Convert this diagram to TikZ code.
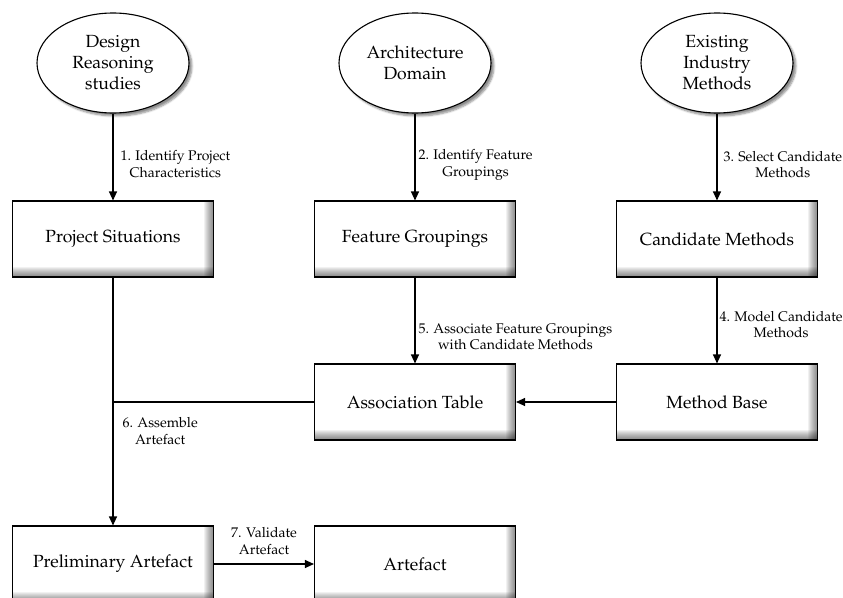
\documentclass[tikz,border=0pt]{standalone}
\IfFileExists{mathpazo.sty}{%
  \usepackage[T1]{fontenc}
  \usepackage{mathpazo}
  \newcommand\bigsz{\fontsize{17.6}{21}\selectfont}
  \newcommand\smallsz{\fontsize{14}{16.5}\selectfont}
}{%
  \usepackage{fontspec}
  \setmainfont{Liberation Serif}
  \newcommand\bigsz{\fontsize{19}{21}\selectfont}
  \newcommand\smallsz{\fontsize{15}{16.5}\selectfont}
}
\usetikzlibrary{shapes.geometric,arrows.meta,shadows.blur}
\begin{document}
\begin{tikzpicture}[x=1pt,y=-1pt,
  every node/.style={inner sep=0pt},
  bigtext/.style={font=\bigsz},
  source/.style={ellipse, draw, line width=1.1pt, fill=white,
    minimum width=152pt, minimum height=100pt, align=center, bigtext,
    blur shadow={shadow xshift=3pt, shadow yshift=-3pt,
      shadow blur steps=6, shadow opacity=45}},
  % inner bevel shading along the right and bottom edges
  stage/.style={rectangle, draw, line width=1.1pt, fill=white,
    minimum width=201pt, minimum height=76pt, bigtext,
    path picture={
      \foreach \i in {1,...,10}{
        \fill[black, opacity=0.055]
          ([xshift=-\i pt]path picture bounding box.north east)
          rectangle (path picture bounding box.south east);
        \fill[black, opacity=0.055]
          ([yshift=\i pt]path picture bounding box.south west)
          rectangle (path picture bounding box.south east);
      }}},
  flow/.style={line width=1.1pt, -{Triangle[length=9pt,width=8pt]}},
  joinline/.style={line width=1.1pt},
  notelabel/.style={align=center, font=\smallsz}
]
\useasboundingbox (0,0) rectangle (843,597);

% sources
\node[source] (drs) at (113,63) {Design\\Reasoning\\studies};
\node[source] (ad)  at (415,63) {Architecture\\Domain};
\node[source] (eim) at (717,63) {Existing\\Industry\\Methods};

% process stages
\node[stage] (ps)  at (113,239) {Project Situations};
\node[stage] (fg)  at (415,239) {Feature Groupings};
\node[stage] (cm)  at (717,239) {Candidate Methods};
\node[stage] (at)  at (415,402) {Association Table};
\node[stage] (mb)  at (717,402) {Method Base};
\node[stage] (pa)  at (113,564) {Preliminary Artefact};
\node[stage] (art) at (415,564) {Artefact};

% connectors
\draw[flow] (drs.south) -- node[notelabel, pos=0.58, anchor=west, xshift=7pt]
  {1. Identify Project\\Characteristics} (ps.north);
\draw[flow] (ad.south) -- node[notelabel, pos=0.59, anchor=west, xshift=3pt]
  {2. Identify Feature\\Groupings} (fg.north);
\draw[flow] (eim.south) -- node[notelabel, pos=0.59, anchor=west, xshift=6pt]
  {3. Select Candidate\\Methods} (cm.north);
\draw[flow] (cm.south) -- node[notelabel, pos=0.55, anchor=west, xshift=2pt]
  {4. Model Candidate\\Methods} (mb.north);
\draw[flow] (fg.south) -- node[notelabel, pos=0.69, anchor=west, xshift=3pt]
  {5. Associate Feature Groupings\\with Candidate Methods} (at.north);
\draw[flow] (mb.west) -- (at.east);
\coordinate (merge) at (ps.south |- at.west);
\draw[joinline] (at.west) -- (merge);
\draw[flow] (ps.south) -- node[notelabel, pos=0.62, anchor=west, xshift=9pt]
  {6. Assemble\\Artefact} (pa.north);
\draw[flow] (pa.east) -- node[notelabel, above=9pt]
  {7. Validate\\Artefact} (art.west);
\end{tikzpicture}
\end{document}
